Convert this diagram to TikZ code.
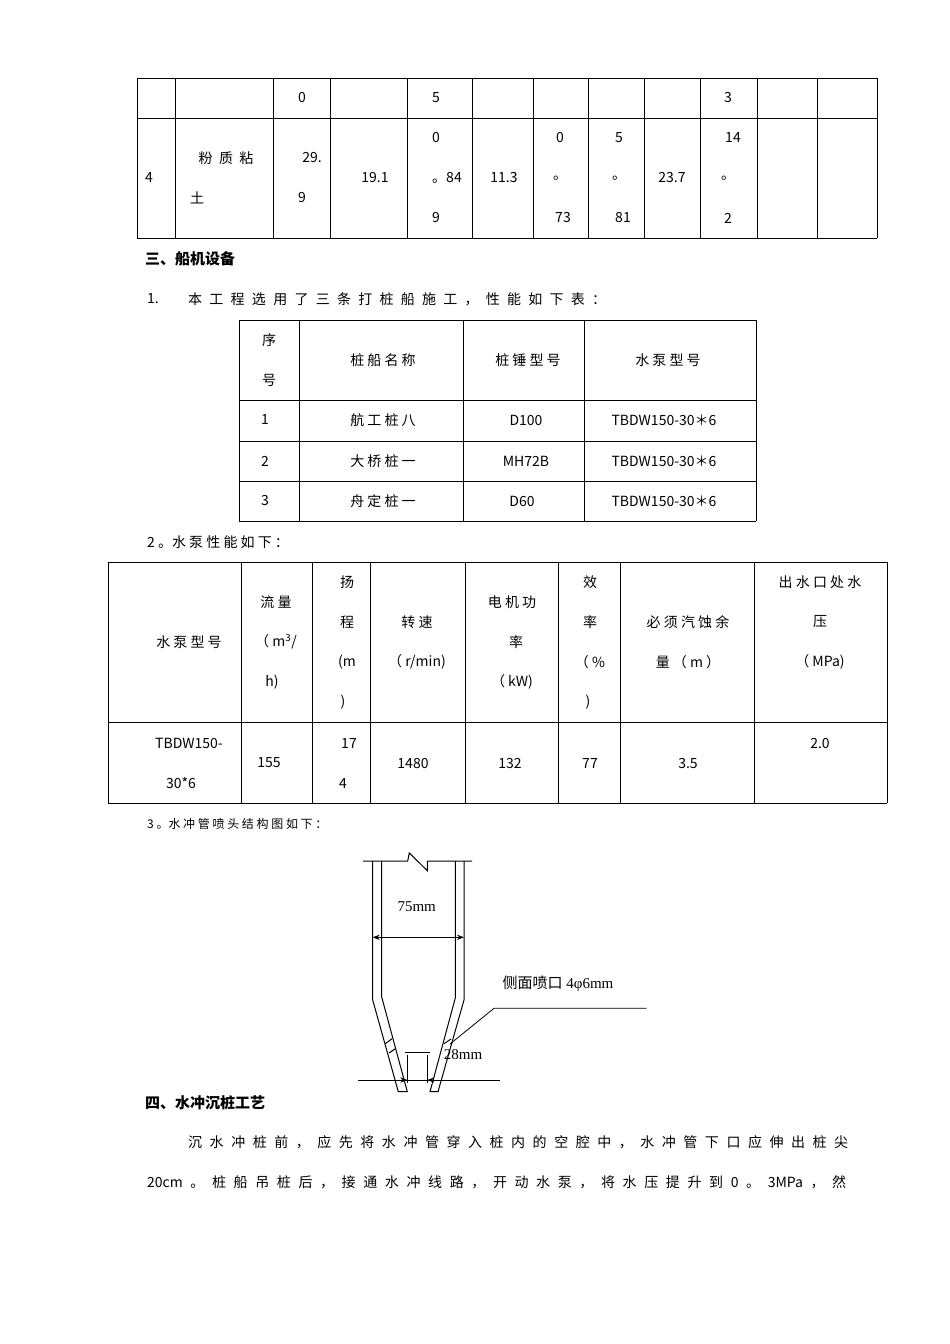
\documentclass[tikz,border=0pt]{standalone}
\usepackage{fontspec}
\setmainfont{Liberation Serif}
\newfontfamily\cjk{Noto Sans CJK SC}
\usetikzlibrary{arrows.meta}
\begin{document}
\begin{tikzpicture}[x=1pt,y=-1pt,
  every node/.style={inner sep=0pt,font=\cjk\fontsize{14}{16}\selectfont},
  tl/.style={line width=0.8pt},
  lft/.style={anchor=west},
  bold/.style={font=\cjk\bfseries\fontsize{15}{17}\selectfont},
  fig/.style={font=\fontsize{15}{17}\selectfont},
  pipe/.style={line width=1pt}]
\useasboundingbox (0,0) rectangle (950,1344);
\fill[white] (0,0) rectangle (950,1344);
% table 1
\foreach \x in {137,175,273,330,407,472,533,588,644,700,757,817,877} \draw[tl] (\x,78)--(\x,238);
\foreach \y in {78,118,238} \draw[tl] (137,\y)--(877,\y);
\node (a1) at (302,98) {0}; \node (a2) at (436,98) {5}; \node (a3) at (728,98) {3};
\node (b1) at (149,178) {4}; \node (b2) at (226,158) {粉\ \ 质\ \ 粘}; \node (b3) at (197,198) {土};
\node (b4) at (312,158) {29.}; \node (b5) at (302,198) {9}; \node (b6) at (375,178) {19.1};
\node (b7) at (436,138) {0}; \node (b8) at (447,178) {。84}; \node (b9) at (436,218) {9};
\node (b10) at (504,178) {11.3};
\node (b11) at (560,138) {0}; \node (b12) at (560,178) {。}; \node (b13) at (563,218) {73};
\node (b14) at (619,138) {5}; \node (b15) at (619,178) {。}; \node (b16) at (623,218) {81};
\node (b17) at (672,178) {23.7};
\node (b18) at (733,138) {14}; \node (b19) at (728,178) {。}; \node (b20) at (728,218) {2};
\node[bold,lft] (h3) at (145,259) {三、船机设备};
\node[lft] (p1a) at (147,299) {1.};
\node[lft] (p1) at (188,299) {\makebox[418pt][s]{本 工 程 选 用 了 三 条 打 桩 船 施 工 ， 性 能 如 下 表 ：}};
% table 2
\foreach \x in {239,299,463,584,756} \draw[tl] (\x,320)--(\x,521);
\foreach \y in {320,400,441,481,521} \draw[tl] (239,\y)--(756,\y);
\node (c1) at (269,340) {序}; \node (c2) at (269,380) {号};
\node (c3) at (383,360) {桩 船 名 称}; \node (c4) at (528,360) {桩 锤 型 号}; \node (c5) at (668,360) {水 泵 型 号};
\node at (265,420) {1}; \node at (383,420) {航 工 桩 八}; \node at (526,420) {D100}; \node at (664,420) {TBDW150-30＊6};
\node at (265,461) {2}; \node at (383,461) {大 桥 桩 一}; \node at (526,461) {MH72B}; \node at (664,461) {TBDW150-30＊6};
\node at (265,501) {3}; \node at (383,501) {舟 定 桩 一}; \node at (522,501) {D60}; \node at (664,501) {TBDW150-30＊6};
\node[lft] (p2) at (147,542) {2 。水 泵 性 能 如 下 ：};
% table 3
\foreach \x in {108,241,312,370,465,558,620,754,887} \draw[tl] (\x,562)--(\x,803);
\foreach \y in {562,722,803} \draw[tl] (108,\y)--(887,\y);
\node at (189,642) {水 泵 型 号};
\node at (276,602) {流 量}; \node at (276,642) {（ m\textsuperscript{3}/}; \node at (272,682) {h)};
\node at (347,582) {扬}; \node at (347,622) {程}; \node at (347,662) {(m}; \node at (343,702) {)};
\node at (417,622) {转 速}; \node at (417,662) {（ r/min)};
\node at (512,602) {电 机 功}; \node at (516,642) {率}; \node at (512,682) {（ kW)};
\node at (590,582) {效}; \node at (590,622) {率}; \node at (590,662) {（ \%}; \node at (588,702) {)};
\node at (688,622) {必 须 汽 蚀 余}; \node at (688,662) {量 （ m ）};
\node at (820,582) {出 水 口 处 水}; \node at (820,622) {压}; \node at (820,662) {（ MPa)};
\node at (189,743) {TBDW150-}; \node at (181,783) {30*6};
\node at (269,763) {155}; \node at (349,743) {17}; \node at (343,783) {4};
\node at (413,763) {1480}; \node at (510,763) {132}; \node at (590,763) {77};
\node at (688,763) {3.5}; \node at (820,743) {2.0};
\node[lft,font=\cjk\fontsize{12}{14}\selectfont] (p3) at (147,824) {3 。水 冲 管 喷 头 结 构 图 如 下 ：};
% drawing
\draw[pipe] (363,861)--(407.7,861)--(409.3,853)--(427.3,870.7)--(427.3,861)--(472,861);
\draw[pipe] (372.7,861)--(372.7,1000)--(398.3,1091.7)--(407.3,1091.7)--(381.7,997)--(381.7,861);
\draw[pipe] (464,861)--(464,1000)--(438,1091.7)--(430,1091.7)--(455.3,998)--(455.3,861);
\draw[pipe] (385.3,1043.7)--(392,1038.7); \draw[pipe] (389,1053)--(395,1049);
\draw[pipe] (444,1043.7)--(451,1039);
\coordinate (dl) at (372.7,937.3); \coordinate (dr) at (464,937.3);
\draw[pipe,{Stealth[length=7pt]}-{Stealth[length=7pt]}] (dl)--(dr);
\node[fig] (t75) at (416.7,906.7) {75mm};
\draw[pipe] (405,1052.3)--(430,1052.3);
\draw[pipe] (407.3,1055)--(407.3,1083); \draw[pipe] (427.3,1055)--(427.3,1083);
\coordinate (g1) at (358.3,1080); \coordinate (g2) at (500,1080);
\coordinate (al) at (407.3,1080); \coordinate (ar) at (427.3,1080);
\draw[pipe] (g1)--(g2);
\draw[pipe,-{Stealth[length=7pt]}] (397,1080)--(al);
\draw[pipe,-{Stealth[length=7pt]}] (437,1080)--(ar);
\node[fig] (t28) at (463,1055) {28mm};
\coordinate (n1) at (450,1044); \coordinate (n2) at (494,1008.3); \coordinate (n3) at (646.7,1008.3);
\draw[line width=0.8pt] (n1)--(n2)--(n3);
\node[fig] (tn) at (558,984) {{\cjk 侧面喷口} 4φ6mm};
\node[bold,lft] (h4) at (145,1103) {四、水冲沉桩工艺};
\node[lft] (q1) at (188,1142) {\makebox[660pt][s]{沉 水 冲 桩 前 ， 应 先 将 水 冲 管 穿 入 桩 内 的 空 腔 中 ， 水 冲 管 下 口 应 伸 出 桩 尖}};
\node[lft] (q2) at (147,1182) {\makebox[699pt][s]{20cm 。 桩 船 吊 桩 后 ， 接 通 水 冲 线 路 ， 开 动 水 泵 ， 将 水 压 提 升 到 0 。 3MPa ， 然}};
\end{tikzpicture}
\end{document}
